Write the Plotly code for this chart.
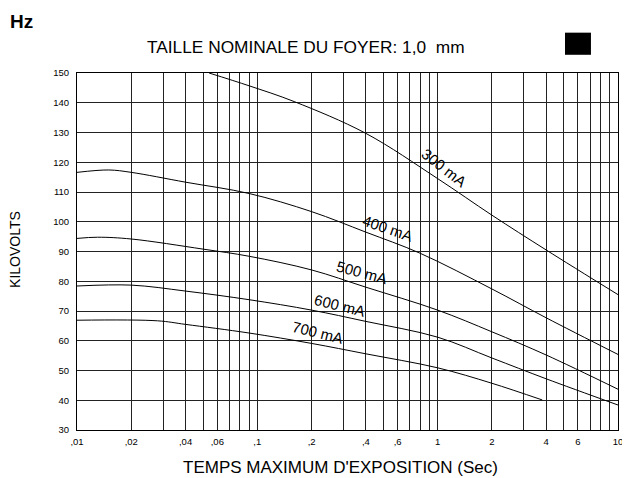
import math
import plotly.graph_objects as go

# ---- data ----
t300 = [0.054, 0.09, 0.16, 0.4, 1.0, 2.0, 4.0, 10.0]
kv300 = [150, 145.7, 140.4, 129.7, 114.5, 102.2, 90.5, 75.5]

t400 = [0.01, 0.015, 0.02, 0.04, 0.09, 0.2, 0.4, 0.8, 2.0, 4.0, 10.0]
kv400 = [116.6, 117.4, 116.6, 113.3, 109.5, 103.4, 96.5, 89.4, 77.4, 67.7, 55.4]

t500 = [0.01, 0.013, 0.02, 0.05, 0.09, 0.2, 0.4, 1.0, 2.0, 4.0, 10.0]
kv500 = [94.4, 94.8, 94.2, 90.8, 88.4, 83.8, 78.0, 70.3, 63.0, 55.2, 43.7]

t600 = [0.01, 0.02, 0.04, 0.09, 0.2, 0.4, 1.0, 2.0, 4.0, 10.0]
kv600 = [78.4, 78.7, 76.7, 73.8, 70.3, 66.5, 61.2, 54.2, 47.2, 38.4]

t700 = [0.01, 0.028, 0.04, 0.09, 0.2, 0.4, 1.0, 2.0, 3.8]
kv700 = [66.9, 66.7, 65.5, 62.6, 59.1, 55.6, 50.9, 45.7, 40.1]

series = [
    ("300 mA", t300, kv300),
    ("400 mA", t400, kv400),
    ("500 mA", t500, kv500),
    ("600 mA", t600, kv600),
    ("700 mA", t700, kv700),
]

# curve label positions (time, kV, angle)
label_t = [1.08, 0.533, 0.382, 0.288, 0.218]
label_kv = [118.1, 97.9, 82.8, 72.0, 62.9]
label_angle = [38, 19, 15, 14, 14]

x_tickvals = [0.01, 0.02, 0.04, 0.06, 0.1, 0.2, 0.4, 0.6, 1, 2, 4, 6, 10]
x_ticktext = [",01", ",02", ",04", ",06", ",1", ",2", ",4", ",6", "1", "2", "4", "6", "10"]
x_minor = [m * 10 ** e for e in (-2, -1, 0) for m in (3, 5, 7, 8, 9)]
y_tickvals = list(range(30, 151, 10))

FONT = "Liberation Sans, Arial, sans-serif"

fig = go.Figure()
for name, t, kv in series:
    fig.add_trace(go.Scatter(
        x=t, y=kv, mode="lines", name=name,
        line=dict(color="black", width=1, shape="spline", smoothing=1.0),
        showlegend=False, hoverinfo="skip",
    ))

annotations = []
for (name, _, _), lt, lk, ang in zip(series, label_t, label_kv, label_angle):
    annotations.append(dict(
        x=math.log10(lt), y=lk, xref="x", yref="y", text=name, showarrow=False,
        textangle=ang, font=dict(family=FONT, size=15, color="black"),
    ))

annotations += [
    dict(x=0.424, y=1.074, xref="paper", yref="paper", text="TAILLE NOMINALE DU FOYER: 1,0  mm",
         showarrow=False, font=dict(family=FONT, size=17.3, color="black"),
         xanchor="center", yanchor="middle"),
    dict(x=0.487, y=-0.104, xref="paper", yref="paper", text="TEMPS MAXIMUM D'EXPOSITION (Sec)",
         showarrow=False, font=dict(family=FONT, size=17, color="black"),
         xanchor="center", yanchor="middle"),
    dict(x=-0.116, y=0.505, xref="paper", yref="paper", text="KILOVOLTS",
         showarrow=False, textangle=-90, font=dict(family=FONT, size=14, color="black"),
         xanchor="center", yanchor="middle"),
    dict(x=-0.127, y=1.143, xref="paper", yref="paper", text="<b>Hz</b>",
         showarrow=False, font=dict(family=FONT, size=19, color="black"),
         xanchor="left", yanchor="middle"),
]

# page body has an 8px margin, so figure is shifted by 8px; compensate
fig.update_layout(
    width=622, height=470,
    margin=dict(l=69, r=12, t=65, b=48, autoexpand=False),
    paper_bgcolor="white", plot_bgcolor="white",
    annotations=annotations,
    shapes=[dict(type="rect", xref="paper", yref="paper",
                 x0=0.902, x1=0.950, y0=1.051, y1=1.113,
                 fillcolor="black", line=dict(color="black", width=0))],
    font=dict(family=FONT, color="black"),
)

fig.update_xaxes(
    type="log", range=[-2, 1], automargin=False,
    tickvals=x_tickvals, ticktext=x_ticktext,
    tickfont=dict(family=FONT, size=9.5, color="black"),
    showgrid=True, gridcolor="#222", gridwidth=1,
    minor=dict(tickvals=x_minor, showgrid=True, gridcolor="#222", gridwidth=1, ticks=""),
    showline=True, linecolor="black", linewidth=1, mirror=True,
    ticks="", zeroline=False, ticklabelstandoff=3,
)
fig.update_yaxes(
    range=[30, 150], tickvals=y_tickvals, automargin=False,
    tickfont=dict(family=FONT, size=9.5, color="black"),
    showgrid=True, gridcolor="#222", gridwidth=1,
    showline=True, linecolor="black", linewidth=1, mirror=True,
    ticks="", zeroline=False, ticklabelstandoff=5,
)

fig.write_html("out.html")
